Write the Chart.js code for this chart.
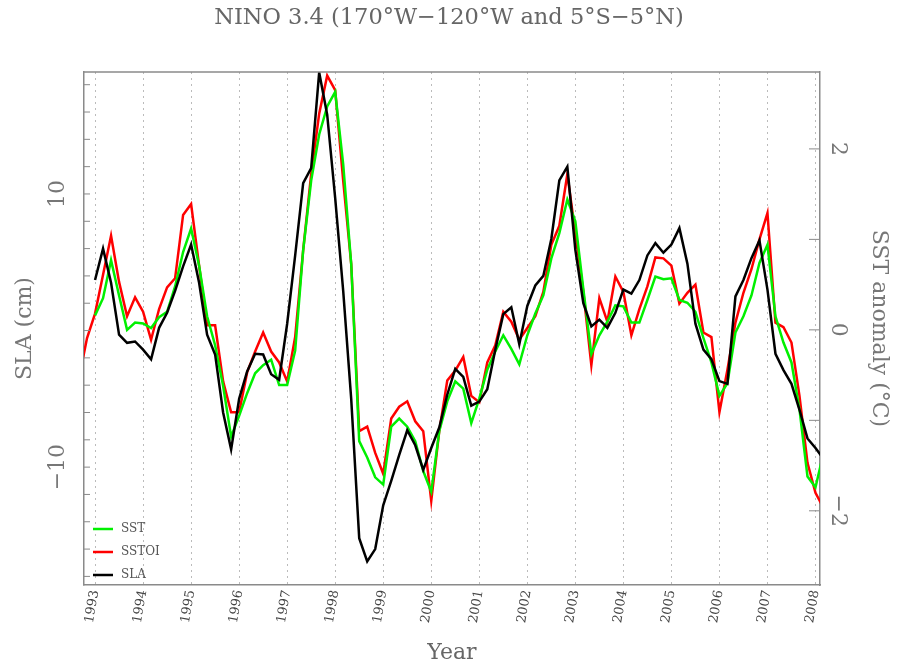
<!DOCTYPE html>
<html>
<head>
<meta charset="utf-8">
<script src="https://cdn.jsdelivr.net/npm/chart.js@4"></script>
<style>
  html, body { margin: 0; padding: 0; background: #fff; }
  canvas { display: block; }
</style>
</head>
<body>
<canvas id="grafico" width="898" height="666"></canvas>
<script>
// sampled every two months, starting Sep 1992
const sampleTimes = Array.from({ length: 94 }, (_, i) => 1993 + (i - 2) / 6);

// SLA in cm (left axis)
const sla = [null, null,
  3.7, 6.0, 3.5, -0.3, -0.9, -0.8, -1.4, -2.1, 0.2, 1.3, 2.9, 4.7,
  6.3, 3.5, -0.3, -1.75, -6.0, -8.7, -5.0, -3.0, -1.7, -1.75, -3.2, -3.6,
  0.5, 5.5, 10.8, 11.9, 18.9, 15.8, 9.7, 2.9, -5.0, -15.2, -16.9, -16.0,
  -12.8, -11.0, -9.1, -7.3, -8.4, -10.2, -8.6, -7.1, -4.7, -2.8, -3.4, -5.5,
  -5.2, -4.3, -1.4, 1.2, 1.7, -1.0, 1.8, 3.3, 4.0, 6.7, 11.0, 12.0,
  5.9, 2.0, 0.3, 0.8, 0.2, 1.3, 3.0, 2.7, 3.7, 5.5, 6.4, 5.7,
  6.3, 7.5, 4.9, 0.5, -1.4, -2.1, -3.7, -3.9, 2.5, 3.7, 5.3, 6.6,
  3.0, -1.7, -2.9, -3.9, -5.8, -7.9, -8.6, -9.4];

// SST anomaly in degC (right axis)
const sst = [null, null,
  0.16, 0.35, 0.77, 0.38, 0.00, 0.08, 0.07, 0.02, 0.14, 0.20, 0.48, 0.86,
  1.12, 0.71, 0.15, -0.17, -0.62, -1.18, -0.95, -0.70, -0.48, -0.39, -0.33, -0.61,
  -0.61, -0.23, 0.88, 1.65, 2.16, 2.47, 2.63, 1.83, 0.73, -1.23, -1.41, -1.63,
  -1.71, -1.07, -0.98, -1.07, -1.23, -1.56, -1.79, -1.12, -0.79, -0.57, -0.65, -1.03,
  -0.76, -0.44, -0.24, -0.06, -0.21, -0.38, -0.06, 0.18, 0.38, 0.79, 1.07, 1.44,
  1.20, 0.45, -0.27, -0.06, 0.09, 0.27, 0.26, 0.08, 0.08, 0.33, 0.59, 0.56,
  0.57, 0.33, 0.30, 0.20, -0.09, -0.36, -0.73, -0.59, -0.03, 0.15, 0.38, 0.74,
  0.94, 0.15, -0.14, -0.36, -0.88, -1.62, -1.74, -1.36];

// SST OI anomaly in degC (right axis)
const sstoi = [-0.53, -0.09,
  0.18, 0.61, 1.04, 0.53, 0.15, 0.36, 0.20, -0.11, 0.23, 0.47, 0.57, 1.27,
  1.39, 0.71, 0.05, 0.05, -0.57, -0.91, -0.91, -0.47, -0.24, -0.03, -0.24, -0.36,
  -0.57, -0.08, 0.88, 1.72, 2.39, 2.81, 2.65, 1.65, 0.73, -1.12, -1.07, -1.36,
  -1.59, -0.98, -0.85, -0.79, -1.01, -1.12, -1.89, -1.12, -0.56, -0.45, -0.30, -0.73,
  -0.80, -0.36, -0.17, 0.20, 0.09, -0.11, 0.02, 0.15, 0.42, 0.94, 1.15, 1.72,
  1.07, 0.42, -0.39, 0.35, 0.09, 0.59, 0.42, -0.06, 0.23, 0.48, 0.80, 0.79,
  0.71, 0.29, 0.41, 0.50, -0.03, -0.08, -0.91, -0.44, 0.08, 0.41, 0.67, 1.00,
  1.29, 0.08, 0.03, -0.14, -0.73, -1.47, -1.80, -1.97];

const yearTicks = [1993, 1994, 1995, 1996, 1997, 1998, 1999, 2000, 2001, 2002, 2003, 2004, 2005, 2006, 2007, 2008];
const slaTicks = [-18, -16, -14, -12, -10, -8, -6, -4, -2, 0, 2, 4, 6, 8, 10, 12, 14, 16, 18];
const sstTicks = [-2, -1, 0, 1, 2];
const legendOrder = ['SST', 'SSTOI', 'SLA'];

const serif = "'DejaVu Serif', 'Liberation Serif', serif";
const frameColor = '#8a8a8a';

function toPoints(values) {
  return values.map((v, i) => ({ x: sampleTimes[i], y: v }));
}
function minusLabel(v) {
  return v < 0 ? '\u2212' + Math.abs(v) : String(v);
}

// top border, inward tick marks, legend inside the plot
const framePlugin = {
  id: 'frame',
  afterDatasetsDraw(chart) {
    const { ctx, chartArea: a, scales } = chart;
    ctx.save();
    ctx.strokeStyle = frameColor;
    ctx.lineWidth = 1.5;
    ctx.beginPath();
    ctx.moveTo(a.left, a.top);
    ctx.lineTo(a.right, a.top);
    ctx.stroke();
    ctx.lineWidth = 1;
    ctx.beginPath();
    slaTicks.forEach(t => {
      const y = scales.y.getPixelForValue(t);
      ctx.moveTo(a.left, y);
      ctx.lineTo(a.left + 6, y);
    });
    sstTicks.forEach(t => {
      const y = scales.y1.getPixelForValue(t);
      ctx.moveTo(a.right, y);
      ctx.lineTo(a.right - 11, y);
    });
    ctx.stroke();

    ctx.font = '12px ' + serif;
    ctx.textBaseline = 'middle';
    ctx.fillStyle = '#555';
    legendOrder.forEach((lbl, i) => {
      const ds = chart.data.datasets.find(d => d.label === lbl);
      const y = a.bottom - 56 + i * 23;
      ctx.strokeStyle = ds.borderColor;
      ctx.lineWidth = 2.5;
      ctx.beginPath();
      ctx.moveTo(a.left + 9, y);
      ctx.lineTo(a.left + 29, y);
      ctx.stroke();
      ctx.fillText(lbl, a.left + 37, y);
    });
    ctx.restore();
  }
};

new Chart(document.getElementById('grafico'), {
  type: 'line',
  data: {
    datasets: [
      { label: 'SLA', data: toPoints(sla), borderColor: '#000000', yAxisID: 'y' },
      { label: 'SST', data: toPoints(sst), borderColor: '#00f000', yAxisID: 'y1' },
      { label: 'SSTOI', data: toPoints(sstoi), borderColor: '#ff0000', yAxisID: 'y1' }
    ]
  },
  options: {
    responsive: false,
    animation: false,
    parsing: false,
    elements: {
      line: { borderWidth: 2.5, tension: 0 },
      point: { radius: 0 }
    },
    layout: { padding: 0 },
    plugins: {
      legend: { display: false },
      tooltip: { enabled: false },
      title: {
        display: true,
        text: 'NINO 3.4 (170\u00b0W\u2212120\u00b0W and 5\u00b0S\u22125\u00b0N)',
        color: '#666',
        font: { family: serif, size: 22.5, weight: 'normal', lineHeight: 1.2 },
        padding: { top: 5, bottom: 40 }
      }
    },
    scales: {
      x: {
        type: 'linear',
        min: 1992.77,
        max: 2008.094,
        afterBuildTicks: s => { s.ticks = yearTicks.map(v => ({ value: v })); },
        afterFit: s => { s.height = 81; },
        ticks: {
          minRotation: 80,
          maxRotation: 80,
          padding: 4,
          color: '#444',
          font: { family: serif, size: 13 },
          callback: v => String(v)
        },
        grid: { color: '#bbbbbb', lineWidth: 1, drawTicks: false },
        border: { color: frameColor, width: 1.5, dash: [2, 4] },
        title: {
          display: true,
          text: 'Year',
          color: '#666',
          font: { family: serif, size: 22 },
          padding: { top: 0, bottom: 0 }
        }
      },
      y: {
        position: 'left',
        min: -18.63,
        max: 18.93,
        afterBuildTicks: s => { s.ticks = slaTicks.map(v => ({ value: v })); },
        afterFit: s => { s.width = 84; },
        ticks: {
          minRotation: 90,
          maxRotation: 90,
          crossAlign: 'center',
          padding: 3,
          color: '#777',
          font: { family: serif, size: 22 },
          callback: v => (v % 10 === 0 ? minusLabel(v) : '')
        },
        grid: {
          drawTicks: false,
          lineWidth: 1.5,
          color: c => (c.tick && c.tick.value === 0 ? frameColor : 'rgba(0,0,0,0)')
        },
        border: { color: frameColor, width: 1.5 },
        title: {
          display: true,
          text: 'SLA (cm)',
          color: '#777',
          font: { family: serif, size: 22 },
          padding: { top: 12, bottom: 0 }
        }
      },
      y1: {
        position: 'right',
        min: -2.82,
        max: 2.85,
        afterBuildTicks: s => { s.ticks = sstTicks.map(v => ({ value: v })); },
        afterFit: s => { s.width = 78; },
        ticks: {
          minRotation: -90,
          maxRotation: -90,
          crossAlign: 'center',
          padding: 2,
          color: '#777',
          font: { family: serif, size: 22 },
          callback: v => (v % 2 === 0 ? minusLabel(v) : '')
        },
        grid: { drawOnChartArea: false, drawTicks: false },
        border: { color: frameColor, width: 1.5 },
        title: {
          display: true,
          text: 'SST anomaly (\u00b0C)',
          color: '#777',
          font: { family: serif, size: 22 },
          padding: { top: 6, bottom: 0 }
        }
      }
    }
  },
  plugins: [framePlugin]
});
</script>
</body>
</html>
